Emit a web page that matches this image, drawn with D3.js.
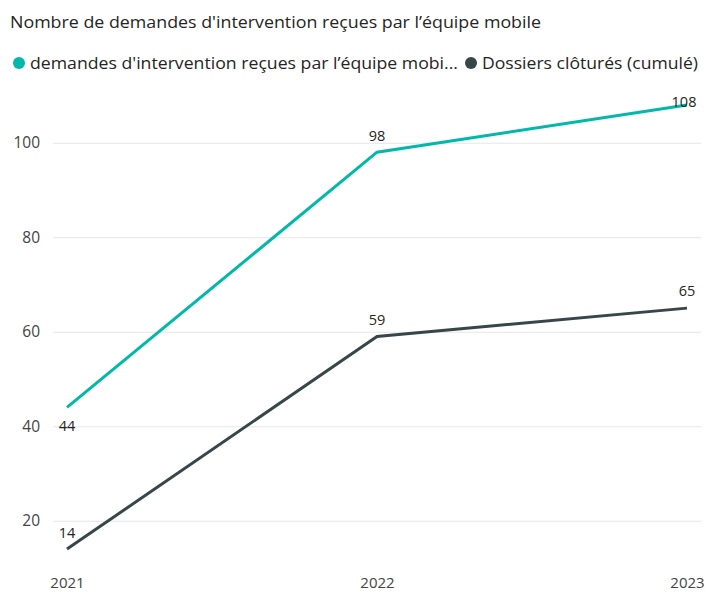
<!DOCTYPE html>
<html><head><meta charset="utf-8">
<script src="https://cdn.jsdelivr.net/npm/d3@7"></script>
<style>
body{margin:0;background:#fff;}
text{font-family:"Segoe UI","Open Sans","Noto Sans",sans-serif;}
</style></head>
<body><svg id="c" width="709" height="592"></svg>
<script>
const years = ["2021","2022","2023"];
const demandes = [44, 98, 108];
const dossiers = [14, 59, 65];
const yTicks = [20, 40, 60, 80, 100];
const seriesNames = ["demandes d'intervention reçues par l’équipe mobi...", "Dossiers clôturés (cumulé)"];
const colors = ["#01B8AA", "#374649"];

const svg = d3.select("#c");
const x = d3.scalePoint().domain(years).range([67, 687]);
const y = d3.scaleLinear().domain([10, 110]).range([568, 95.5]);

svg.append("text").attr("x", 10).attr("y", 28).attr("font-size", 17).attr("fill", "#252423")
  .attr("textLength", 531).attr("lengthAdjust", "spacingAndGlyphs")
  .text("Nombre de demandes d'intervention reçues par l’équipe mobile");

// legend
const lg = svg.append("g");
const lx = [19, 471];
const lw = [428, 216];
seriesNames.forEach((n, i) => {
  lg.append("circle").attr("cx", lx[i]).attr("cy", 63).attr("r", 6).attr("fill", colors[i]);
  lg.append("text").attr("x", lx[i] + 11).attr("y", 69).attr("font-size", 16.5).attr("fill", "#252423")
    .attr("textLength", lw[i]).attr("lengthAdjust", "spacingAndGlyphs").text(n);
});

// grid
const ga = svg.append("g").attr("transform", "translate(53,0)")
  .call(d3.axisLeft(y).tickValues(yTicks).tickSize(-648).tickPadding(13));
ga.select(".domain").remove();
ga.selectAll(".tick line").attr("stroke", "#e6e6e6").attr("stroke-width", 1);
ga.selectAll(".tick text").attr("font-size", 15.5).attr("fill", "#444").attr("font-family", '"Segoe UI","Open Sans",sans-serif');

// x axis
const xa = svg.append("g").attr("transform", "translate(0,568)")
  .call(d3.axisBottom(x).tickSize(0).tickPadding(9));
xa.select(".domain").remove();
xa.selectAll(".tick text").attr("font-size", 15).attr("fill", "#444").attr("font-family", '"Segoe UI","Open Sans",sans-serif');

const line = d3.line().x((d, i) => x(years[i])).y(d => y(d));
[demandes, dossiers].forEach((s, k) => {
  svg.append("path").datum(s).attr("d", line).attr("fill", "none")
    .attr("stroke", colors[k]).attr("stroke-width", 3);
});

// data labels
const lblStyle = sel => sel.attr("font-size", 14.5).attr("fill", "#252423")
  .attr("font-family", '"DejaVu Sans Condensed","Roboto",sans-serif').attr("text-anchor", "middle");
const labels = [
  {s: 0, i: 0, dx: 0, dy: 24},
  {s: 0, i: 1, dx: 0, dy: -11},
  {s: 0, i: 2, dx: -3, dy: 2},
  {s: 1, i: 0, dx: 0, dy: -11},
  {s: 1, i: 1, dx: 0, dy: -11},
  {s: 1, i: 2, dx: 0, dy: -12},
];
const data = [demandes, dossiers];
labels.forEach(l => {
  const v = data[l.s][l.i];
  svg.append("text").call(lblStyle)
    .attr("x", x(years[l.i]) + l.dx).attr("y", y(v) + l.dy).text(v);
});
</script></body></html>
